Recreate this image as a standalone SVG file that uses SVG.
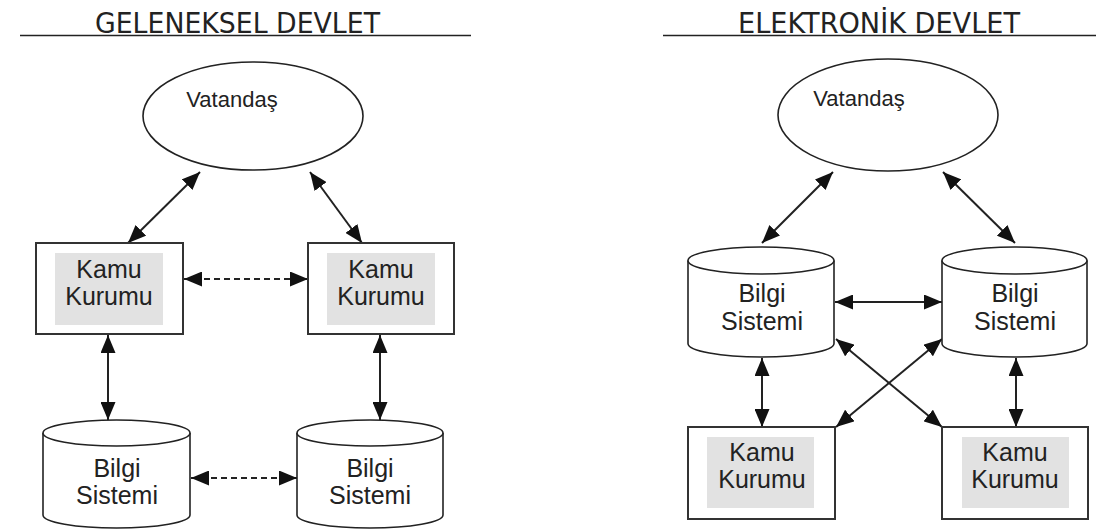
<svg xmlns="http://www.w3.org/2000/svg" width="1099" height="531" viewBox="0 0 1099 531">
  <defs>
    <marker id="head" viewBox="0 0 18 15" refX="18" refY="7.5" markerWidth="18" markerHeight="15" markerUnits="userSpaceOnUse" orient="auto-start-reverse">
      <path d="M0,0 L18,7.5 L0,15 z" fill="#111"/>
    </marker>
    <style>
      .title { font-family: "DejaVu Sans", sans-serif; font-size: 29px; fill: #222; }
      .rule { stroke: #222; stroke-width: 1.6; }
      .lbl { font-family: "Liberation Sans", Arial, sans-serif; font-size: 25px; fill: #222; text-anchor: middle; }
      .shape { fill: #fff; stroke: #222; stroke-width: 1.6; }
      .box { fill: #fff; stroke: #333; stroke-width: 2; }
      .pad { fill: #e2e2e2; }
      .link { stroke: #222; stroke-width: 2; fill: none; marker-start: url(#head); marker-end: url(#head); }
      .dash { stroke-dasharray: 6 4; }
    </style>
  </defs>
  <rect width="1099" height="531" fill="#fff"/>

  <!-- headings -->
  <g id="heading-left">
    <text class="title" x="95" y="33" textLength="285" lengthAdjust="spacingAndGlyphs">GELENEKSEL DEVLET</text>
    <line class="rule" x1="20" y1="35.5" x2="471" y2="35.5"/>
  </g>
  <g id="heading-right">
    <text class="title" x="738" y="33" textLength="282" lengthAdjust="spacingAndGlyphs">ELEKTRONİK DEVLET</text>
    <line class="rule" x1="663" y1="35.5" x2="1096" y2="35.5"/>
  </g>

  <!-- connectors -->
  <g id="connectors">
    <!-- traditional -->
    <line class="link" x1="200" y1="172" x2="128" y2="243"/>
    <line class="link" x1="310" y1="172" x2="362" y2="243"/>
    <line class="link dash" x1="184" y1="279" x2="308" y2="279"/>
    <line class="link" x1="108" y1="335" x2="108" y2="420"/>
    <line class="link" x1="380" y1="335" x2="380" y2="420"/>
    <line class="link dash" x1="191" y1="478" x2="297" y2="478"/>
    <!-- electronic -->
    <line class="link" x1="833" y1="172" x2="762" y2="243"/>
    <line class="link" x1="943" y1="172" x2="1015" y2="243"/>
    <line class="link" x1="835" y1="302" x2="942" y2="302"/>
    <line class="link" x1="762" y1="358" x2="762" y2="427"/>
    <line class="link" x1="1016" y1="358" x2="1016" y2="427"/>
    <line class="link" x1="836" y1="339" x2="942" y2="427"/>
    <line class="link" x1="942" y1="339" x2="836" y2="427"/>
  </g>

  <!-- traditional government -->
  <g id="citizen-left">
    <ellipse class="shape" cx="253" cy="116" rx="110" ry="54"/>
    <text class="lbl" x="232" y="107" style="font-size:22px">Vatandaş</text>
  </g>
  <g id="agency-left-1">
    <rect class="box" x="36" y="243" width="147" height="91"/>
    <rect class="pad" x="55" y="253" width="108" height="72"/>
    <text class="lbl" x="109" y="278">Kamu</text>
    <text class="lbl" x="109" y="305">Kurumu</text>
  </g>
  <g id="agency-left-2">
    <rect class="box" x="308" y="243" width="146" height="91"/>
    <rect class="pad" x="327" y="253" width="108" height="72"/>
    <text class="lbl" x="381" y="278">Kamu</text>
    <text class="lbl" x="381" y="305">Kurumu</text>
  </g>
  <g id="infosys-left-1">
    <path class="shape" d="M43,433 L43,515 A73.5,13 0 0 0 190,515 L190,433"/>
    <ellipse class="shape" cx="116.5" cy="433" rx="73.5" ry="13"/>
    <text class="lbl" x="117" y="477">Bilgi</text>
    <text class="lbl" x="117" y="504">Sistemi</text>
  </g>
  <g id="infosys-left-2">
    <path class="shape" d="M297,433 L297,515 A73,13 0 0 0 443,515 L443,433"/>
    <ellipse class="shape" cx="370" cy="433" rx="73" ry="13"/>
    <text class="lbl" x="370" y="477">Bilgi</text>
    <text class="lbl" x="370" y="504">Sistemi</text>
  </g>

  <!-- electronic government -->
  <g id="citizen-right">
    <ellipse class="shape" cx="888" cy="115" rx="110" ry="56"/>
    <text class="lbl" x="859" y="106" style="font-size:22px">Vatandaş</text>
  </g>
  <g id="infosys-right-1">
    <path class="shape" d="M688,260.5 L688,343.5 A73,13.5 0 0 0 834,343.5 L834,260.5"/>
    <ellipse class="shape" cx="761" cy="260.5" rx="73" ry="13.5"/>
    <text class="lbl" x="762" y="302">Bilgi</text>
    <text class="lbl" x="762" y="330">Sistemi</text>
  </g>
  <g id="infosys-right-2">
    <path class="shape" d="M942,260.5 L942,343.5 A72.5,13.5 0 0 0 1087,343.5 L1087,260.5"/>
    <ellipse class="shape" cx="1014.5" cy="260.5" rx="72.5" ry="13.5"/>
    <text class="lbl" x="1015" y="302">Bilgi</text>
    <text class="lbl" x="1015" y="330">Sistemi</text>
  </g>
  <g id="agency-right-1">
    <rect class="box" x="688" y="427" width="147" height="92"/>
    <rect class="pad" x="707" y="437" width="107" height="71"/>
    <text class="lbl" x="762" y="461">Kamu</text>
    <text class="lbl" x="762" y="488">Kurumu</text>
  </g>
  <g id="agency-right-2">
    <rect class="box" x="942" y="427" width="146" height="92"/>
    <rect class="pad" x="962" y="437" width="107" height="71"/>
    <text class="lbl" x="1015" y="461">Kamu</text>
    <text class="lbl" x="1015" y="488">Kurumu</text>
  </g>
</svg>
